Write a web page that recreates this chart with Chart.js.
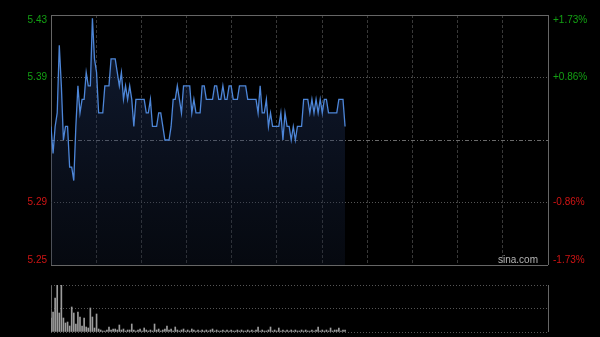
<!DOCTYPE html>
<html><head><meta charset="utf-8">
<script src="https://cdn.jsdelivr.net/npm/chart.js@4"></script>
<style>
html,body{margin:0;padding:0;background:#000;width:600px;height:337px;overflow:hidden}
#c1{position:absolute;left:0;top:0}
#c2{position:absolute;left:0;top:280px}
</style></head><body>
<canvas id="c1" width="600" height="280"></canvas>
<canvas id="c2" width="600" height="57"></canvas>
<script>
const prevClose = 5.34;
const priceMin = 5.2476, priceMax = 5.4324;
const priceTicks = [5.2476, 5.2938, 5.34, 5.3862, 5.4324];
const priceLabels = ['5.25', '5.29', '', '5.39', '5.43'];
const pctLabels = ['-1.73%', '-0.86%', '', '+0.86%', '+1.73%'];
const totalMinutes = 240;
const timeGridCount = 11;
const prices = [
 5.35,5.33,5.35,5.36,5.41,5.38,5.34,5.35,5.35,5.32,
 5.32,5.31,5.35,5.38,5.36,5.37,5.37,5.39,5.38,5.38,
 5.43,5.40,5.39,5.36,5.36,5.36,5.38,5.38,5.38,5.40,
 5.40,5.40,5.39,5.38,5.39,5.37,5.38,5.37,5.38,5.37,
 5.35,5.37,5.37,5.37,5.37,5.37,5.36,5.36,5.37,5.35,
 5.35,5.35,5.36,5.36,5.35,5.34,5.34,5.34,5.35,5.37,
 5.37,5.38,5.37,5.36,5.38,5.38,5.38,5.38,5.36,5.37,
 5.36,5.36,5.36,5.38,5.38,5.37,5.37,5.37,5.37,5.38,
 5.38,5.37,5.37,5.38,5.37,5.37,5.38,5.38,5.37,5.37,
 5.37,5.38,5.38,5.38,5.38,5.37,5.37,5.37,5.37,5.37,
 5.36,5.38,5.36,5.36,5.37,5.35,5.36,5.35,5.35,5.35,
 5.35,5.36,5.34,5.36,5.35,5.35,5.34,5.35,5.34,5.35,
 5.35,5.35,5.37,5.37,5.37,5.36,5.37,5.36,5.37,5.36,
 5.37,5.36,5.37,5.37,5.36,5.36,5.36,5.36,5.36,5.37,
 5.37,5.37,5.35
];
const volumes = [
 14,20,34,47,19,47,14,9,10,6,
 25,19,8,20,15,6,14,5,4,24,
 15,4,18,3,2,1,1,2,5,2,
 3,3,2,7,2,3,1,2,2,8,
 2,1,2,3,1,4,2,1,2,1,
 8,2,3,1,2,3,6,2,3,1,
 5,2,1,2,3,1,2,1,3,2,
 1,2,1,2,1,2,1,2,3,1,
 2,1,1,2,1,2,1,2,1,1,
 2,1,2,1,1,2,1,2,1,2,
 5,1,2,1,1,2,5,1,2,1,
 4,1,2,1,2,1,2,1,2,1,
 1,2,1,2,1,1,2,1,2,5,
 1,2,1,2,1,4,1,2,2,4,
 1,2,2
];
const volMax = 47;

const FONT = "'Liberation Sans', Arial, sans-serif";
const GREEN = '#13a013', RED = '#d01414';
const timeTicks = Array.from({length: timeGridCount + 1}, (_, k) => ({value: k * totalMinutes / timeGridCount}));

const sinaPlugin = {
  id: 'sina',
  afterDraw(chart) {
    const c = chart.ctx;
    c.save();
    c.font = '10px ' + FONT;
    c.fillStyle = '#b4b4b4';
    c.textAlign = 'right';
    c.textBaseline = 'alphabetic';
    c.fillText('sina.com', chart.chartArea.right - 10, chart.chartArea.bottom - 2);
    c.restore();
  }
};

function tickFont(ctx) {
  const edge = ctx.index === 0 || ctx.index === priceTicks.length - 1;
  return {family: FONT, size: 10, lineHeight: edge ? '10px' : 1.2};
}
function edgeLabel(text, i) {
  if (i === priceTicks.length - 1) return ['', text];
  if (i === 0) return [text, ''];
  return text;
}
function tickColor(ctx) {
  const v = priceTicks[ctx.index];
  return v > prevClose ? GREEN : (v < prevClose ? RED : '#888');
}

new Chart(document.getElementById('c1'), {
  type: 'line',
  data: {
    datasets: [{
      data: prices.map((p, i) => ({x: i, y: p})),
      borderColor: '#4d86d8',
      borderWidth: 1.3,
      pointRadius: 0,
      tension: 0,
      fill: 'start',
      backgroundColor: (ctx) => {
        const area = ctx.chart.chartArea;
        if (!area) return 'rgba(30,50,90,0.4)';
        const g = ctx.chart.ctx.createLinearGradient(0, area.top, 0, area.bottom);
        g.addColorStop(0, 'rgba(40,66,122,0.42)');
        g.addColorStop(1, 'rgba(20,30,52,0.3)');
        return g;
      },
      yAxisID: 'y'
    }]
  },
  options: {
    responsive: false,
    animation: false,
    devicePixelRatio: 1,
    layout: {padding: {top: 14, bottom: 0, left: 0, right: 0}},
    plugins: {legend: {display: false}, tooltip: {enabled: false}},
    scales: {
      x: {
        type: 'linear', min: 0, max: totalMinutes,
        afterBuildTicks: s => { s.ticks = timeTicks.map(t => ({value: t.value})); },
        afterFit: s => { s.height = 14; },
        ticks: {display: false},
        grid: {
          drawTicks: false,
          color: ctx => (ctx.index === 0 || ctx.index === timeGridCount) ? '#666666' : '#383838',
          lineWidth: 1
        },
        border: {display: false, dash: ctx => (ctx.index === 0 || ctx.index === timeGridCount) ? [] : [3, 2]}
      },
      y: {
        type: 'linear', position: 'left', min: priceMin, max: priceMax,
        afterBuildTicks: s => { s.ticks = priceTicks.map(v => ({value: v})); },
        afterFit: s => { s.width = 51; },
        ticks: {
          callback: (v, i) => edgeLabel(priceLabels[i], i),
          color: tickColor, font: tickFont, padding: 4, autoSkip: false
        },
        grid: {
          drawTicks: false,
          color: ctx => {
            const i = ctx.index;
            if (i === 0 || i === priceTicks.length - 1) return '#666666';
            if (priceTicks[i] === prevClose) return '#6a6a6a';
            return '#555555';
          }
        },
        border: {
          display: false,
          dash: ctx => {
            const i = ctx.index;
            if (i === 0 || i === priceTicks.length - 1) return [];
            if (priceTicks[i] === prevClose) return [4, 2, 1, 2];
            return [1, 2];
          }
        }
      },
      y2: {
        type: 'linear', position: 'right', min: priceMin, max: priceMax,
        afterBuildTicks: s => { s.ticks = priceTicks.map(v => ({value: v})); },
        afterFit: s => { s.width = 52; },
        ticks: {
          callback: (v, i) => edgeLabel(pctLabels[i], i),
          color: tickColor, font: tickFont, padding: 5, autoSkip: false
        },
        grid: {drawOnChartArea: false, drawTicks: false},
        border: {display: false}
      }
    }
  },
  plugins: [sinaPlugin]
});

new Chart(document.getElementById('c2'), {
  type: 'bar',
  data: {
    datasets: [{
      data: volumes.map((v, i) => ({x: i, y: v})),
      backgroundColor: '#9c9c9c',
      borderWidth: 0,
      barThickness: 1
    }]
  },
  options: {
    responsive: false,
    animation: false,
    devicePixelRatio: 1,
    layout: {padding: {top: 5, bottom: 0, left: 0, right: 52}},
    plugins: {legend: {display: false}, tooltip: {enabled: false}},
    scales: {
      x: {
        type: 'linear', min: 0, max: totalMinutes, offset: false,
        afterBuildTicks: s => { s.ticks = [{value: 0}, {value: totalMinutes}]; },
        afterFit: s => { s.height = 5; },
        ticks: {display: false},
        grid: {drawTicks: false, color: '#666666', offset: false},
        border: {display: false}
      },
      y: {
        type: 'linear', position: 'left', min: 0, max: volMax,
        afterBuildTicks: s => { s.ticks = [{value: 0}, {value: volMax / 2}, {value: volMax}]; },
        afterFit: s => { s.width = 51; },
        ticks: {display: false},
        grid: {drawTicks: false, color: '#555555'},
        border: {display: false, dash: [1, 2]}
      }
    }
  }
});
</script>
</body></html>
